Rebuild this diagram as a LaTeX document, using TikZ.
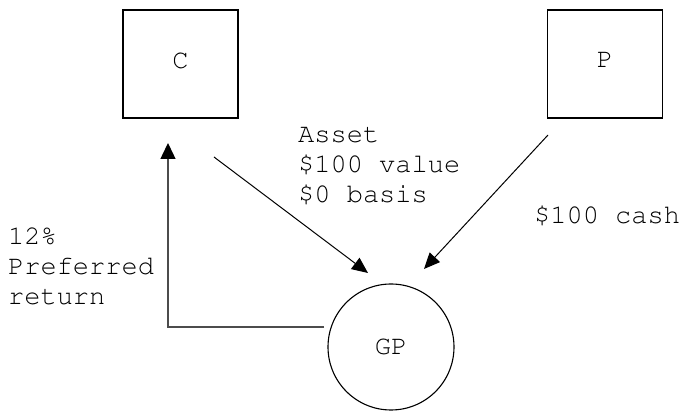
\documentclass[tikz,border=0pt]{standalone}
\usepackage[T1,TU]{fontenc}
\usetikzlibrary{arrows.meta}
\newcommand\courierfont{\fontencoding{T1}\fontfamily{pcr}\fontseries{m}\fontshape{n}\fontsize{27}{30}\selectfont}
\begin{document}
\begin{tikzpicture}[x=1pt,y=-1pt,
  every node/.style={font=\courierfont},
  party/.style={draw,line width=1.1pt,rectangle,minimum width=115pt,minimum height=108pt,inner sep=0pt,text depth=8pt},
  partner/.style={draw,line width=1.1pt,circle,minimum size=126pt,inner sep=0pt},
  note/.style={align=left,anchor=base west,inner sep=0pt},
  flow/.style={line width=1pt,-{Triangle[length=16pt,width=14pt]}},
  payback/.style={line width=1.4pt,draw=black!70,-{Triangle[length=16pt,width=15pt,color=black]}}]
\useasboundingbox (0,0) rectangle (681,411);

% parties
\node[party] (C) at (180.5,64) {C};
\node[party] (P) at (605,64) {P};
\node[partner] (GP) at (391,347) {GP};

% connector ends
\coordinate (c1) at (214,157);
\coordinate (g1) at (368,273);
\coordinate (p1) at (548,135);
\coordinate (g2) at (424,269);
\coordinate (g3) at (324,327);
\coordinate (k) at (168,327);
\coordinate (c2) at (168,143);

% flows
\draw[flow] (c1) -- (g1);
\draw[flow] (p1) -- (g2);
\draw[payback] (g3) -- (k) -- (c2);

% labels (anchored at the baseline of their last line)
\node[note] (asset) at (298,203) {Asset\\\$100 value\\\$0 basis};
\node[note] (cash) at (534,224) {\$100 cash};
\node[note] (pref) at (8,305) {12\%\\Preferred\\return};
\end{tikzpicture}
\end{document}
